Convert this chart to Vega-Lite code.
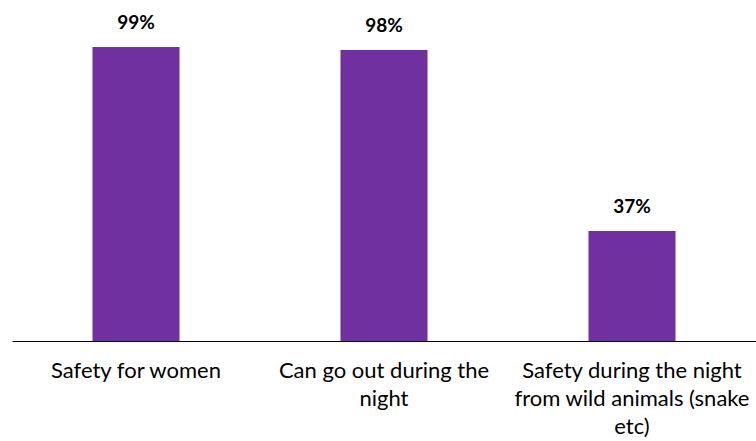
{
  "$schema": "https://vega.github.io/schema/vega-lite/v6.json",
  "width": 744,
  "height": 297,
  "autosize": {"type": "none"},
  "padding": {"left": 12, "top": 44, "right": 0, "bottom": 100},
  "background": "white",
  "config": {"view": {"stroke": null}, "font": "Lato"},
  "data": {
    "values": [
      {"item": "Safety for women", "share": 99},
      {"item": "Can go out during the night", "share": 98},
      {"item": "Safety during the night from wild animals (snake etc)", "share": 37}
    ]
  },
  "transform": [{"calculate": "datum.share + '%'", "as": "share_label"}],
  "encoding": {
    "x": {
      "field": "item",
      "type": "nominal",
      "sort": null,
      "scale": {"paddingInner": 0.649, "paddingOuter": 0.3245},
      "axis": {
        "title": null,
        "labelAngle": 0,
        "ticks": false,
        "domainColor": "#000000",
        "domainWidth": 1,
        "labelFont": "Lato",
        "labelFontSize": 22,
        "labelColor": "#000000",
        "labelPadding": 19,
        "labelLimit": 400,
        "labelLineHeight": 28,
        "labelExpr": "datum.value == 'Can go out during the night' ? ['Can go out during the', 'night'] : datum.value == 'Safety during the night from wild animals (snake etc)' ? ['Safety during the night', 'from wild animals (snake', 'etc)'] : datum.value"
      }
    },
    "y": {
      "field": "share",
      "type": "quantitative",
      "scale": {"domain": [0, 100]},
      "axis": null
    }
  },
  "layer": [
    {"mark": {"type": "bar", "color": "#7030A0"}},
    {
      "mark": {
        "type": "text",
        "baseline": "alphabetic",
        "dy": -18,
        "fontSize": 19,
        "fontWeight": "bold",
        "font": "Lato",
        "color": "#000000",
        "clip": false
      },
      "encoding": {"text": {"field": "share_label", "type": "nominal"}}
    }
  ]
}
